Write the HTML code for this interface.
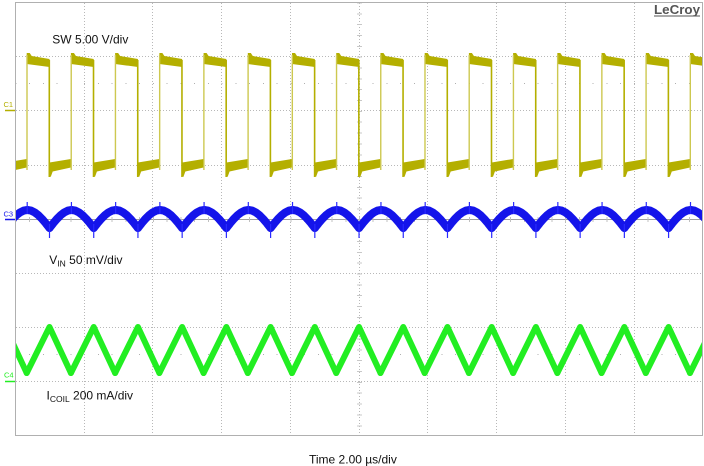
<!DOCTYPE html>
<html>
<head>
<meta charset="utf-8">
<style>
html,body{margin:0;padding:0;background:#fff;width:704px;height:466px;overflow:hidden}
svg{display:block}
</style>
</head>
<body>
<svg width="704" height="466" viewBox="0 0 704 466" xmlns="http://www.w3.org/2000/svg" font-family="'Liberation Sans', Arial, sans-serif">
<defs>
  <clipPath id="c"><rect x="16" y="3" width="686" height="432"/></clipPath>
  <g id="p">
    <!-- SW high plateau -->
    <polygon fill="#b4af00" points="0,53 3,53 5,56 22.8,59 22.8,67 0,64"/>
    <!-- rising edge -->
    <line x1="0.3" y1="170" x2="0.3" y2="55" stroke="#cdc850" stroke-width="1.4"/>
    <!-- falling edge -->
    <line x1="22.6" y1="60" x2="22.6" y2="177" stroke="#b4af00" stroke-width="1.6"/>
    <!-- SW low plateau -->
    <polygon fill="#b4af00" points="22.8,162.5 44.22,159 44.22,167.5 26,171.5 24,177 22.8,176"/>
    <!-- VIN -->
    <polyline fill="none" stroke="#1414ea" stroke-width="8" stroke-linejoin="round" stroke-linecap="round"
      points="22.8,228 26.49,223.34 30.17,219 33.86,215.27 37.54,212.41 41.23,210.61 44.91,210 48.6,210.61 52.28,212.41 55.97,215.27 59.65,219 63.34,223.34 67.02,228"/>
    <line x1="0.5" y1="214" x2="0.5" y2="202" stroke="#2a2aff" stroke-width="1.2"/>
    <line x1="22.8" y1="224" x2="22.8" y2="238" stroke="#2a2aff" stroke-width="1.2"/>
    <!-- ICOIL -->
    <polyline fill="none" stroke="#22ee22" stroke-width="6" stroke-linejoin="round" stroke-linecap="round"
      points="0,373 22.8,327 44.22,373"/>
  </g>
</defs>

<rect x="0" y="0" width="704" height="466" fill="#fff"/>

<!-- dotted grid -->
<g stroke="#b8b8b8" stroke-width="1" stroke-dasharray="1 2" shape-rendering="crispEdges">
  <line x1="84.5" y1="3" x2="84.5" y2="435"/>
  <line x1="152.5" y1="3" x2="152.5" y2="435"/>
  <line x1="221.5" y1="3" x2="221.5" y2="435"/>
  <line x1="290.5" y1="3" x2="290.5" y2="435"/>
  <line x1="359.5" y1="3" x2="359.5" y2="435"/>
  <line x1="427.5" y1="3" x2="427.5" y2="435"/>
  <line x1="496.5" y1="3" x2="496.5" y2="435"/>
  <line x1="565.5" y1="3" x2="565.5" y2="435"/>
  <line x1="634.5" y1="3" x2="634.5" y2="435"/>
  <line x1="16" y1="56.5" x2="702" y2="56.5"/>
  <line x1="16" y1="110.5" x2="702" y2="110.5"/>
  <line x1="16" y1="165.5" x2="702" y2="165.5"/>
  <line x1="16" y1="273.5" x2="702" y2="273.5"/>
  <line x1="16" y1="327.5" x2="702" y2="327.5"/>
  <line x1="16" y1="381.5" x2="702" y2="381.5"/>
</g>
<!-- center horizontal solid -->
<line x1="16" y1="219.5" x2="702" y2="219.5" stroke="#a0a0a0" stroke-width="1" shape-rendering="crispEdges"/>
<!-- center ticks -->
<line x1="359.5" y1="2.5" x2="359.5" y2="435" stroke="#c8c8c8" stroke-width="5" stroke-dasharray="1 9.84" shape-rendering="crispEdges"/>
<line x1="15.5" y1="219.5" x2="702" y2="219.5" stroke="#c0c0c0" stroke-width="5" stroke-dasharray="1 12.74" shape-rendering="crispEdges"/>
<!-- mid-row dots -->
<line x1="15.5" y1="83.5" x2="702" y2="83.5" stroke="#b0b0b0" stroke-width="1" stroke-dasharray="1 12.74" shape-rendering="crispEdges"/>
<line x1="15.5" y1="354.5" x2="702" y2="354.5" stroke="#b0b0b0" stroke-width="1" stroke-dasharray="1 12.74" shape-rendering="crispEdges"/>

<!-- border -->
<rect x="15.5" y="2.5" width="687" height="433" fill="none" stroke="#b0b0b0" stroke-width="1" shape-rendering="crispEdges"/>

<!-- traces -->
<g clip-path="url(#c)">
  <use href="#p" transform="translate(-17.52,0)"/>
  <use href="#p" transform="translate(26.70,0)"/>
  <use href="#p" transform="translate(70.92,0)"/>
  <use href="#p" transform="translate(115.14,0)"/>
  <use href="#p" transform="translate(159.36,0)"/>
  <use href="#p" transform="translate(203.58,0)"/>
  <use href="#p" transform="translate(247.80,0)"/>
  <use href="#p" transform="translate(292.02,0)"/>
  <use href="#p" transform="translate(336.24,0)"/>
  <use href="#p" transform="translate(380.46,0)"/>
  <use href="#p" transform="translate(424.68,0)"/>
  <use href="#p" transform="translate(468.90,0)"/>
  <use href="#p" transform="translate(513.12,0)"/>
  <use href="#p" transform="translate(557.34,0)"/>
  <use href="#p" transform="translate(601.56,0)"/>
  <use href="#p" transform="translate(645.78,0)"/>
  <use href="#p" transform="translate(690.00,0)"/>
</g>

<!-- channel markers -->
<text x="3.5" y="107" font-size="7.5" fill="#b4af00">C1</text>
<line x1="5" y1="110.5" x2="15" y2="110.5" stroke="#b4af00" stroke-width="1.5"/>
<text x="3.5" y="216.5" font-size="7.5" fill="#1414ea">C3</text>
<line x1="5" y1="219.5" x2="15" y2="219.5" stroke="#1414ea" stroke-width="1.5"/>
<text x="4" y="377.5" font-size="7.5" fill="#22ee22">C4</text>
<line x1="5" y1="381.5" x2="15" y2="381.5" stroke="#22ee22" stroke-width="1.5"/>

<!-- labels -->
<text x="52.3" y="43.7" font-size="12" fill="#111">SW 5.00 V/div</text>
<text x="49.3" y="264" font-size="12" fill="#111">V<tspan font-size="8.5" dy="2.5">IN</tspan><tspan dy="-2.5"> 50 mV/div</tspan></text>
<text x="46.5" y="399.3" font-size="12" fill="#111">I<tspan font-size="8.5" dy="2.5">COIL</tspan><tspan dy="-2.5"> 200 mA/div</tspan></text>
<text x="309" y="463.3" font-size="12" fill="#111">Time 2.00 µs/div</text>

<!-- LeCroy logo -->
<rect x="646" y="3" width="56" height="17" fill="#fff"/>
<text x="654" y="14" font-size="13" font-weight="bold" fill="#555" textLength="46" lengthAdjust="spacingAndGlyphs">LeCroy</text>
<line x1="654" y1="16" x2="700" y2="16" stroke="#555" stroke-width="1"/>
</svg>
</body>
</html>
